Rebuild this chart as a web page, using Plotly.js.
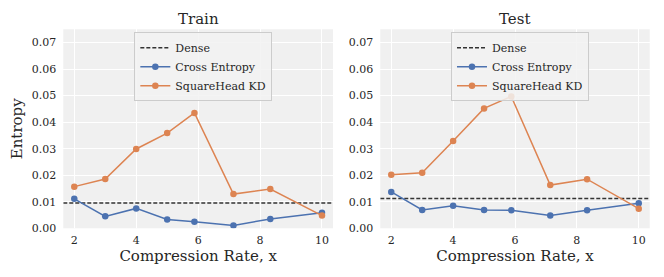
<!DOCTYPE html>
<html>
<head>
<meta charset="utf-8">
<script src="https://cdn.plot.ly/plotly-3.0.1.min.js"></script>
<style>html,body{margin:0;padding:0;background:#fff;}#chart{width:664px;height:277px;}</style>
</head>
<body>
<div id="chart"></div>
<script>
// Data
const compressionRate = [2, 3, 4, 5, 5.88, 7.14, 8.33, 10];
const trainCrossEntropy = [0.0111, 0.0045, 0.0075, 0.0033, 0.0025, 0.0011, 0.0035, 0.0059];
const trainSquareHead   = [0.0157, 0.0186, 0.0299, 0.0359, 0.0435, 0.0129, 0.0148, 0.0048];
const trainDense = 0.0095;
const testCrossEntropy = [0.0137, 0.0069, 0.0085, 0.0069, 0.0068, 0.0048, 0.0068, 0.0094];
const testSquareHead   = [0.0202, 0.0209, 0.0329, 0.0452, 0.0497, 0.0163, 0.0185, 0.0074];
const testDense = 0.0112;
const panelTitles = ["Train", "Test"];
const xTicks = [2, 4, 6, 8, 10];
const yTicks = [0, 0.01, 0.02, 0.03, 0.04, 0.05, 0.06, 0.07];
const xRange = [1.645, 10.355];
const yRange = [0, 0.075];

const FONT = "DejaVu Serif";
const TXT = "#262626";
const BLUE = "#4c72b0";
const ORANGE = "#dd8452";

function panelTraces(ce, sq, dense, xa, ya, leg) {
  return [
    {x: [xRange[0], xRange[1]], y: [dense, dense], mode: "lines", name: "Dense",
     line: {color: "#333333", width: 1.5, dash: "4px,2px"}, xaxis: xa, yaxis: ya, legend: leg, hoverinfo: "skip"},
    {x: compressionRate, y: ce, mode: "lines+markers", name: "Cross Entropy",
     line: {color: BLUE, width: 1.5}, marker: {color: BLUE, size: 6.5}, xaxis: xa, yaxis: ya, legend: leg},
    {x: compressionRate, y: sq, mode: "lines+markers", name: "SquareHead KD",
     line: {color: ORANGE, width: 1.5}, marker: {color: ORANGE, size: 6.5}, xaxis: xa, yaxis: ya, legend: leg}
  ];
}

const data = [].concat(
  panelTraces(trainCrossEntropy, trainSquareHead, trainDense, "x", "y", "legend"),
  panelTraces(testCrossEntropy, testSquareHead, testDense, "x2", "y2", "legend2")
);

const yDom = [0.1758, 0.8942];
const xDom1 = [0.0953, 0.5015];
const xDom2 = [0.5727, 0.9785];

function xAxis(dom, anchor) {
  return {
    domain: dom, anchor: anchor, range: xRange, tickvals: xTicks, ticktext: xTicks.map(String),
    showgrid: true, gridcolor: "#ffffff", gridwidth: 1, zeroline: false, showline: false, ticks: "",
    ticklabelstandoff: 4,
    tickfont: {family: FONT, size: 11, color: TXT},
    title: {text: "Compression Rate, x", font: {family: FONT, size: 15, color: TXT}, standoff: 4}
  };
}
function yAxis(anchor, title) {
  const a = {
    domain: yDom, anchor: anchor, range: yRange, tickvals: yTicks, ticktext: yTicks.map(v => v.toFixed(2)),
    showgrid: true, gridcolor: "#ffffff", gridwidth: 1, zeroline: false, showline: false, ticks: "",
    ticklabelstandoff: 6,
    tickfont: {family: FONT, size: 11, color: TXT}
  };
  if (title) a.title = {text: title, font: {family: FONT, size: 15, color: TXT}, standoff: 5};
  return a;
}
function legendBox(x) {
  return {
    x: x, y: 0.884, xanchor: "left", yanchor: "top", xref: "paper", yref: "paper",
    bgcolor: "rgba(242,242,242,0.85)", bordercolor: "#cccccc", borderwidth: 1,
    font: {family: FONT, size: 11, color: TXT}, itemwidth: 30, tracegroupgap: 0
  };
}

const layout = {
  width: 664, height: 277,
  margin: {l: 0, r: 0, t: 0, b: 0},
  paper_bgcolor: "#ffffff",
  plot_bgcolor: "#f0f0f0",
  font: {family: FONT, color: TXT},
  showlegend: true,
  xaxis: xAxis(xDom1, "y"),
  yaxis: yAxis("x", "Entropy"),
  xaxis2: xAxis(xDom2, "y2"),
  yaxis2: yAxis("x2", null),
  legend: legendBox(0.2023),
  legend2: legendBox(0.6792),
  annotations: panelTitles.map((t, i) => ({
    text: t, xref: "paper", yref: "paper",
    x: i === 0 ? (xDom1[0] + xDom1[1]) / 2 : (xDom2[0] + xDom2[1]) / 2,
    y: 0.9314, xanchor: "center", yanchor: "middle", showarrow: false,
    font: {family: FONT, size: 15, color: TXT}
  }))
};

Plotly.newPlot("chart", data, layout, {displayModeBar: false, staticPlot: true});
</script>
</body>
</html>
